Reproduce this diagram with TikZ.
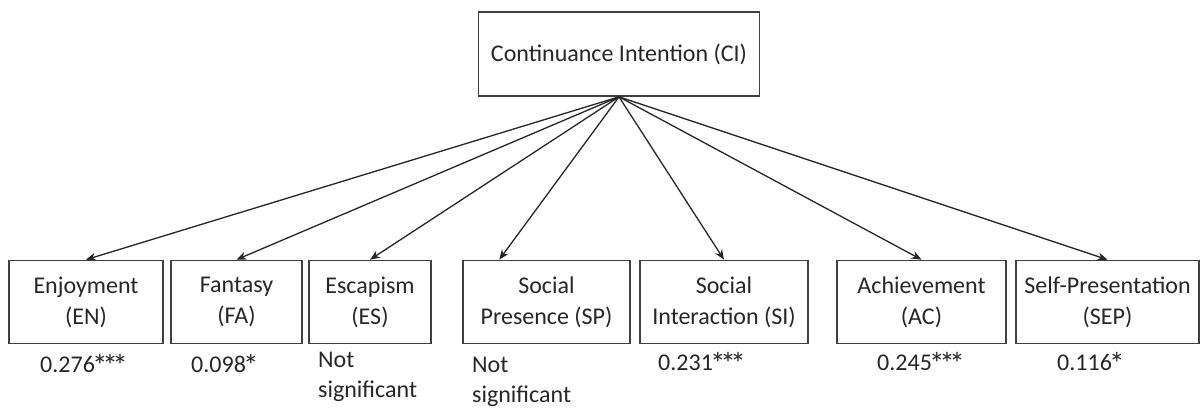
\documentclass[tikz,border=0pt]{standalone}
\usepackage{fontspec}
\setmainfont{Carlito}
\usetikzlibrary{arrows.meta,calc}
\newcommand\myst{\makebox[0.42em]{\raisebox{-0.3ex}{\scalebox{1.3}{*}}}}
\begin{document}
\begin{tikzpicture}[x=1pt,y=-1pt,
  box/.style={draw=black!75,line width=1.7pt,rectangle,inner sep=0pt,align=center,
    font=\fontsize{24}{31}\selectfont,text=black!85},
  lab/.style={inner sep=0pt,font=\fontsize{24}{30}\selectfont,text=black!85,align=left},
  conn/.style={draw=black!85,line width=1.3pt,-{Stealth[length=10pt,width=8pt]}}]
\useasboundingbox (0,0) rectangle (1200,410);
\node[box,minimum width=281pt,minimum height=84pt] (CI) at (619,54) {Continuance Intention (CI)};
\node[box,minimum width=154pt,minimum height=83pt] (EN) at (86,302) {Enjoyment\\(EN)};
\node[box,minimum width=131pt,minimum height=83pt] (FA) at (236.5,302) {Fantasy\\(FA)};
\node[box,minimum width=122pt,minimum height=83pt] (ES) at (370,302) {Escapism\\(ES)};
\node[box,minimum width=167pt,minimum height=83pt] (SP) at (546.5,302) {Social\\Presence (SP)};
\node[box,minimum width=168pt,minimum height=83pt] (SI) at (724,302) {Social\\Interaction (SI)};
\node[box,minimum width=169pt,minimum height=83pt] (AC) at (921.5,302) {Achievement\\(AC)};
\node[box,minimum width=183pt,minimum height=83pt] (SEP) at (1107.5,302) {Self-Presentation\\(SEP)};
\draw[conn] (CI.south) -- (EN.north);
\draw[conn] (CI.south) -- (FA.north);
\draw[conn] (CI.south) -- (ES.north);
\draw[conn] (CI.south) -- ($(SP.north west)!0.22!(SP.north east)$);
\draw[conn] (CI.south) -- (SI.north);
\draw[conn] (CI.south) -- (AC.north);
\draw[conn] (CI.south) -- (SEP.north);
\node[lab,anchor=west] (lEN) at (40,365) {0.276\myst\myst\myst};
\node[lab,anchor=west] (lFA) at (191,365) {0.098\myst};
\node[lab,anchor=north west] (lES) at (318,352) {Not\\significant};
\node[lab,anchor=north west] (lSP) at (472,357) {Not\\significant};
\node[lab,anchor=west] (lSI) at (658,363) {0.231\myst\myst\myst};
\node[lab,anchor=west] (lAC) at (877,363) {0.245\myst\myst\myst};
\node[lab,anchor=west] (lSEP) at (1057,363) {0.116\myst};
\end{tikzpicture}
\end{document}
